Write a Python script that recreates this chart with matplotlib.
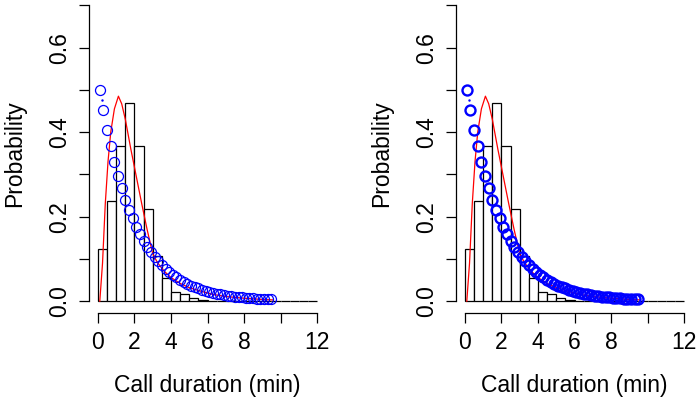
import numpy as np
import matplotlib.pyplot as plt

plt.rcParams['font.family'] = ['Liberation Sans', 'DejaVu Sans']

# histogram (density per 0.5 min bin)
bin_left = [0.0, 0.5, 1.0, 1.5, 2.0, 2.5, 3.0, 3.5, 4.0, 4.5, 5.0, 5.5,
            6.0, 6.5, 7.0, 7.5, 8.0, 8.5, 9.0, 9.5, 10.0, 10.5, 11.0, 11.5]
bin_height = [0.124, 0.2375, 0.366, 0.469, 0.368, 0.218, 0.108, 0.055, 0.022, 0.017, 0.008, 0.003,
              0.001, 0.0, 0.0, 0.0, 0.0, 0.0, 0.0, 0.0, 0.0, 0.0, 0.0, 0.0]

# fitted curve (red)
fit_x = [0.10, 0.25, 0.40, 0.55, 0.70, 0.90, 1.12, 1.30, 1.50, 1.80, 2.10, 2.40, 2.70,
         3.00, 3.25, 3.60, 4.00, 4.50, 5.00, 5.60, 6.30, 7.00, 8.00, 9.00, 9.60]
fit_y = [0.000, 0.090, 0.230, 0.330, 0.400, 0.455, 0.485, 0.467, 0.430, 0.360, 0.295, 0.230, 0.168,
         0.112, 0.092, 0.072, 0.056, 0.042, 0.032, 0.024, 0.016, 0.011, 0.007, 0.004, 0.003]

# empirical points (blue circles)
pt_x = [0.1, 0.3, 0.5, 0.7, 0.9, 1.1, 1.3, 1.5, 1.7, 1.9, 2.1, 2.3, 2.5, 2.7, 2.9, 3.1,
        3.3, 3.5, 3.7, 3.9, 4.1, 4.3, 4.5, 4.7, 4.9, 5.1, 5.3, 5.5, 5.7, 5.9, 6.1, 6.3,
        6.5, 6.7, 6.9, 7.1, 7.3, 7.5, 7.7, 7.9, 8.1, 8.3, 8.5, 8.7, 8.9, 9.1, 9.3, 9.5]
pt_y = [0.500, 0.453, 0.406, 0.367, 0.330, 0.297, 0.267, 0.240, 0.215, 0.196, 0.176, 0.158,
        0.142, 0.128, 0.116, 0.104, 0.094, 0.085, 0.077, 0.069, 0.062, 0.056, 0.051, 0.046,
        0.041, 0.037, 0.034, 0.030, 0.027, 0.025, 0.022, 0.020, 0.018, 0.016, 0.015, 0.013,
        0.012, 0.011, 0.010, 0.009, 0.008, 0.007, 0.007, 0.006, 0.005, 0.005, 0.004, 0.004]
dot_x = [0.24]
dot_y = [0.477]

x_ticks = [0, 2, 4, 6, 8, 10, 12]
x_labels = ['0', '2', '4', '6', '8', '', '12']
y_ticks = [0.0, 0.1, 0.2, 0.3, 0.4, 0.5, 0.6, 0.7]
y_labels = ['0.0', '', '0.2', '', '0.4', '', '0.6', '']

W, H = 696, 398
fig = plt.figure(figsize=(W / 100, H / 100), dpi=100)

fs = 16.5
for left_px, mew in [(89.2, 0.9), (456.2, 1.7)]:
    ax = fig.add_axes([left_px / W, 85 / H, 236.6 / W, 319.5 / H])
    ax.bar(bin_left, bin_height, width=0.5, align='edge', facecolor='white',
           edgecolor='black', linewidth=0.9, zorder=1)
    ax.plot(fit_x, fit_y, color='#ff0000', linewidth=0.9, zorder=2)
    ax.plot(pt_x, pt_y, 'o', markerfacecolor='none', markeredgecolor='#0000ff',
            markersize=7.2, markeredgewidth=mew, zorder=3)
    ax.plot(dot_x, dot_y, '.', color='#0000ff', markersize=1.5, zorder=3)

    ax.set_xlim(-0.48, 12.48)
    ax.set_ylim(-0.028, 0.728)
    for s in ['top', 'right']:
        ax.spines[s].set_visible(False)
    ax.spines['left'].set_bounds(0, 0.7)
    ax.spines['bottom'].set_bounds(0, 12)
    ax.spines['left'].set_linewidth(0.9)
    ax.spines['bottom'].set_linewidth(0.9)

    ax.set_xticks(x_ticks)
    ax.set_xticklabels(x_labels, fontsize=fs)
    ax.set_yticks(y_ticks)
    ax.set_yticklabels(y_labels, fontsize=fs, rotation=90, va='center')
    ax.tick_params(direction='out', length=7.2, width=0.9)
    ax.tick_params(axis='x', pad=6)
    ax.tick_params(axis='y', pad=6)

    ax.set_xlabel('Call duration (min)', fontsize=fs)
    ax.xaxis.set_label_coords(0.5, -0.2254)
    ax.xaxis.label.set_va('center')
    ax.set_ylabel('Probability', fontsize=fs)
    ax.yaxis.set_label_coords(-0.3136, 0.5)
    ax.yaxis.label.set_va('center')

fig.savefig('out.png', dpi=100)
